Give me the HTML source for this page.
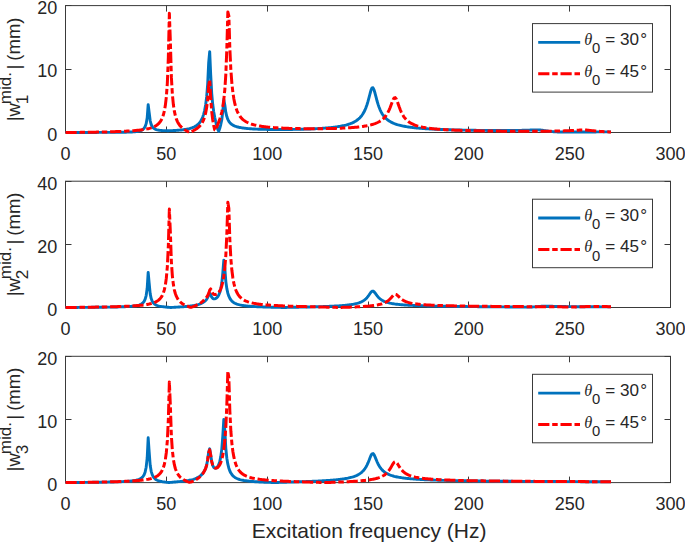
<!DOCTYPE html>
<html><head><meta charset="utf-8"><title>Frequency response</title>
<style>html,body{margin:0;padding:0;background:#fff}svg text{font-family:"Liberation Sans",sans-serif;fill:#262626}</style>
</head><body>
<svg width="685" height="543" viewBox="0 0 685 543" style="display:block">
<rect width="685" height="543" fill="#fff"/>
<g><rect x="65.5" y="5.6" width="605.0" height="126.9" fill="none" stroke="#3a3a3a" stroke-width="1"/>
<text x="65.50" y="159.5" text-anchor="middle" font-size="18">0</text>
<text x="166.33" y="159.5" text-anchor="middle" font-size="18">50</text>
<text x="267.17" y="159.5" text-anchor="middle" font-size="18">100</text>
<text x="368.00" y="159.5" text-anchor="middle" font-size="18">150</text>
<text x="468.83" y="159.5" text-anchor="middle" font-size="18">200</text>
<text x="569.67" y="159.5" text-anchor="middle" font-size="18">250</text>
<text x="670.50" y="159.5" text-anchor="middle" font-size="18">300</text>
<text x="57.3" y="140.80" text-anchor="end" font-size="18">0</text>
<text x="57.3" y="77.35" text-anchor="end" font-size="18">10</text>
<text x="57.3" y="13.90" text-anchor="end" font-size="18">20</text>
<path d="M65.50,132.5 v-6 M65.50,5.6 v6 M166.50,132.5 v-6 M166.50,5.6 v6 M267.50,132.5 v-6 M267.50,5.6 v6 M368.50,132.5 v-6 M368.50,5.6 v6 M468.50,132.5 v-6 M468.50,5.6 v6 M569.50,132.5 v-6 M569.50,5.6 v6 M670.50,132.5 v-6 M670.50,5.6 v6 M65.5,132.50 h6 M670.5,132.50 h-6 M65.5,69.50 h6 M670.5,69.50 h-6 M65.5,5.50 h6 M670.5,5.50 h-6" stroke="#3a3a3a" stroke-width="1" fill="none"/>
<path d="M65.50,132.50 L66.51,132.50 L67.52,132.50 L68.53,132.50 L69.53,132.49 L70.54,132.49 L71.55,132.49 L72.56,132.48 L73.57,132.48 L74.58,132.48 L75.58,132.48 L76.59,132.48 L77.60,132.47 L78.61,132.47 L79.62,132.47 L80.62,132.47 L81.63,132.46 L82.64,132.46 L83.65,132.46 L84.66,132.46 L85.67,132.45 L86.67,132.45 L87.68,132.45 L88.69,132.45 L89.70,132.45 L90.71,132.44 L91.72,132.44 L92.72,132.44 L93.73,132.44 L94.74,132.43 L95.75,132.43 L96.76,132.43 L97.77,132.42 L98.78,132.42 L99.78,132.42 L100.79,132.42 L101.80,132.41 L102.81,132.41 L103.82,132.41 L104.82,132.40 L105.83,132.40 L106.84,132.39 L107.85,132.39 L108.86,132.38 L109.87,132.38 L110.88,132.37 L111.88,132.37 L112.89,132.36 L113.90,132.35 L114.91,132.34 L115.92,132.34 L116.92,132.33 L117.93,132.32 L118.94,132.30 L119.95,132.29 L120.96,132.28 L121.97,132.26 L122.97,132.25 L123.98,132.23 L124.99,132.20 L126.00,132.18 L127.01,132.15 L128.02,132.12 L129.03,132.09 L130.03,132.05 L131.04,132.00 L132.05,131.95 L133.06,131.88 L134.07,131.81 L135.07,131.72 L136.08,131.61 L137.09,131.48 L138.10,131.31 L139.11,131.10 L140.12,130.84 L141.12,130.48 L142.13,130.00 L143.14,129.30 L144.15,128.26 L145.16,126.58 L146.17,123.63 L147.18,117.77 L148.18,104.58 L149.19,112.76 L150.20,120.80 L151.21,124.51 L152.22,126.56 L153.22,127.80 L154.23,128.60 L155.24,129.15 L156.25,129.55 L157.26,129.84 L158.27,130.05 L159.27,130.22 L160.28,130.35 L161.29,130.45 L162.30,130.53 L163.31,130.58 L164.32,130.62 L165.32,130.65 L166.33,130.67 L167.34,130.68 L168.35,130.68 L169.36,130.67 L170.37,130.65 L171.38,130.63 L172.38,130.59 L173.39,130.55 L174.40,130.51 L175.41,130.45 L176.42,130.39 L177.43,130.32 L178.43,130.24 L179.44,130.16 L180.45,130.06 L181.46,129.95 L182.47,129.84 L183.47,129.70 L184.48,129.56 L185.49,129.40 L186.50,129.22 L187.51,129.02 L188.52,128.79 L189.52,128.54 L190.53,128.26 L191.54,127.94 L192.55,127.58 L193.56,127.16 L194.57,126.69 L195.57,126.13 L196.58,125.48 L197.59,124.71 L198.60,123.79 L199.61,122.67 L200.62,121.29 L201.62,119.54 L202.63,117.30 L203.64,114.35 L204.65,110.34 L205.66,104.74 L206.67,96.65 L207.67,84.01 L208.68,62.51 L209.69,51.60 L210.70,74.53 L211.71,93.31 L212.72,104.31 L213.72,111.77 L214.73,117.33 L215.74,121.80 L216.75,125.68 L217.76,129.24 L218.77,131.30 L219.78,128.26 L220.78,124.54 L221.79,119.76 L222.80,111.21 L223.81,99.51 L224.82,104.95 L225.82,112.37 L226.83,116.62 L227.84,119.40 L228.85,121.31 L229.86,122.68 L230.87,123.71 L231.88,124.50 L232.88,125.13 L233.89,125.65 L234.90,126.08 L235.91,126.45 L236.92,126.76 L237.92,127.03 L238.93,127.27 L239.94,127.48 L240.95,127.67 L241.96,127.84 L242.97,127.99 L243.97,128.13 L244.98,128.26 L245.99,128.37 L247.00,128.47 L248.01,128.57 L249.02,128.66 L250.03,128.74 L251.03,128.81 L252.04,128.88 L253.05,128.94 L254.06,129.00 L255.07,129.05 L256.07,129.10 L257.08,129.15 L258.09,129.19 L259.10,129.23 L260.11,129.26 L261.12,129.30 L262.12,129.33 L263.13,129.35 L264.14,129.38 L265.15,129.40 L266.16,129.42 L267.17,129.44 L268.17,129.46 L269.18,129.47 L270.19,129.49 L271.20,129.50 L272.21,129.51 L273.22,129.52 L274.23,129.53 L275.23,129.53 L276.24,129.54 L277.25,129.54 L278.26,129.54 L279.27,129.54 L280.27,129.54 L281.28,129.54 L282.29,129.53 L283.30,129.53 L284.31,129.52 L285.32,129.52 L286.32,129.51 L287.33,129.50 L288.34,129.49 L289.35,129.48 L290.36,129.46 L291.37,129.45 L292.38,129.43 L293.38,129.42 L294.39,129.40 L295.40,129.38 L296.41,129.36 L297.42,129.34 L298.42,129.32 L299.43,129.29 L300.44,129.27 L301.45,129.24 L302.46,129.21 L303.47,129.18 L304.48,129.15 L305.48,129.12 L306.49,129.09 L307.50,129.05 L308.51,129.01 L309.52,128.97 L310.52,128.93 L311.53,128.89 L312.54,128.84 L313.55,128.80 L314.56,128.75 L315.57,128.70 L316.57,128.64 L317.58,128.59 L318.59,128.53 L319.60,128.47 L320.61,128.40 L321.62,128.34 L322.62,128.27 L323.63,128.19 L324.64,128.12 L325.65,128.04 L326.66,127.95 L327.67,127.86 L328.68,127.77 L329.68,127.67 L330.69,127.57 L331.70,127.46 L332.71,127.35 L333.72,127.23 L334.72,127.10 L335.73,126.97 L336.74,126.83 L337.75,126.68 L338.76,126.52 L339.77,126.35 L340.77,126.17 L341.78,125.98 L342.79,125.77 L343.80,125.55 L344.81,125.32 L345.82,125.07 L346.82,124.79 L347.83,124.50 L348.84,124.18 L349.85,123.84 L350.86,123.46 L351.87,123.05 L352.88,122.61 L353.88,122.11 L354.89,121.56 L355.90,120.96 L356.91,120.28 L357.92,119.52 L358.93,118.66 L359.93,117.68 L360.94,116.57 L361.95,115.28 L362.96,113.79 L363.97,112.05 L364.97,110.01 L365.98,107.59 L366.99,104.74 L368.00,101.43 L369.01,97.68 L370.02,93.74 L371.02,90.18 L372.03,87.92 L373.04,87.77 L374.05,89.81 L375.06,93.27 L376.07,97.21 L377.07,101.01 L378.08,104.40 L379.09,107.32 L380.10,109.79 L381.11,111.89 L382.12,113.67 L383.12,115.20 L384.13,116.51 L385.14,117.65 L386.15,118.64 L387.16,119.52 L388.17,120.29 L389.18,120.98 L390.18,121.60 L391.19,122.16 L392.20,122.66 L393.21,123.12 L394.22,123.53 L395.22,123.91 L396.23,124.26 L397.24,124.59 L398.25,124.89 L399.26,125.16 L400.27,125.42 L401.27,125.66 L402.28,125.88 L403.29,126.09 L404.30,126.29 L405.31,126.47 L406.32,126.64 L407.32,126.81 L408.33,126.96 L409.34,127.11 L410.35,127.25 L411.36,127.38 L412.37,127.50 L413.38,127.62 L414.38,127.73 L415.39,127.84 L416.40,127.94 L417.41,128.04 L418.42,128.13 L419.43,128.22 L420.43,128.30 L421.44,128.38 L422.45,128.46 L423.46,128.54 L424.47,128.61 L425.47,128.68 L426.48,128.74 L427.49,128.81 L428.50,128.87 L429.51,128.93 L430.52,128.99 L431.52,129.04 L432.53,129.09 L433.54,129.15 L434.55,129.19 L435.56,129.24 L436.57,129.29 L437.57,129.33 L438.58,129.38 L439.59,129.42 L440.60,129.46 L441.61,129.50 L442.62,129.54 L443.62,129.57 L444.63,129.61 L445.64,129.64 L446.65,129.68 L447.66,129.71 L448.67,129.74 L449.68,129.77 L450.68,129.80 L451.69,129.83 L452.70,129.86 L453.71,129.88 L454.72,129.91 L455.72,129.94 L456.73,129.96 L457.74,129.98 L458.75,130.01 L459.76,130.03 L460.77,130.05 L461.77,130.07 L462.78,130.09 L463.79,130.11 L464.80,130.13 L465.81,130.15 L466.82,130.17 L467.82,130.19 L468.83,130.21 L469.84,130.22 L470.85,130.24 L471.86,130.25 L472.87,130.27 L473.88,130.28 L474.88,130.30 L475.89,130.31 L476.90,130.33 L477.91,130.34 L478.92,130.35 L479.93,130.36 L480.93,130.37 L481.94,130.39 L482.95,130.40 L483.96,130.41 L484.97,130.41 L485.97,130.42 L486.98,130.43 L487.99,130.44 L489.00,130.45 L490.01,130.46 L491.02,130.46 L492.02,130.47 L493.03,130.47 L494.04,130.48 L495.05,130.48 L496.06,130.49 L497.07,130.49 L498.07,130.49 L499.08,130.50 L500.09,130.50 L501.10,130.50 L502.11,130.50 L503.12,130.50 L504.12,130.50 L505.13,130.50 L506.14,130.49 L507.15,130.49 L508.16,130.49 L509.17,130.48 L510.18,130.48 L511.18,130.47 L512.19,130.46 L513.20,130.45 L514.21,130.44 L515.22,130.43 L516.22,130.42 L517.23,130.40 L518.24,130.39 L519.25,130.37 L520.26,130.35 L521.27,130.33 L522.27,130.31 L523.28,130.28 L524.29,130.26 L525.30,130.23 L526.31,130.20 L527.32,130.16 L528.33,130.13 L529.33,130.09 L530.34,130.05 L531.35,130.01 L532.36,129.98 L533.37,129.94 L534.38,129.91 L535.38,129.89 L536.39,129.88 L537.40,129.89 L538.41,129.91 L539.42,129.96 L540.42,130.04 L541.43,130.14 L542.44,130.27 L543.45,130.41 L544.46,130.57 L545.47,130.73 L546.47,130.89 L547.48,131.04 L548.49,131.19 L549.50,131.32 L550.51,131.44 L551.52,131.55 L552.52,131.64 L553.53,131.73 L554.54,131.80 L555.55,131.86 L556.56,131.91 L557.57,131.95 L558.58,131.99 L559.58,132.01 L560.59,132.03 L561.60,132.05 L562.61,132.06 L563.62,132.06 L564.62,132.06 L565.63,132.06 L566.64,132.06 L567.65,132.06 L568.66,132.05 L569.67,132.05 L570.67,132.04 L571.68,132.04 L572.69,132.03 L573.70,132.02 L574.71,132.02 L575.72,132.01 L576.72,132.00 L577.73,132.00 L578.74,131.99 L579.75,131.99 L580.76,131.98 L581.77,131.97 L582.77,131.97 L583.78,131.97 L584.79,131.96 L585.80,131.96 L586.81,131.95 L587.82,131.95 L588.82,131.95 L589.83,131.94 L590.84,131.94 L591.85,131.94 L592.86,131.93 L593.87,131.93 L594.88,131.93 L595.88,131.93 L596.89,131.92 L597.90,131.92 L598.91,131.92 L599.92,131.92 L600.92,131.92 L601.93,131.92 L602.94,131.91 L603.95,131.91 L604.96,131.91 L605.97,131.91 L606.98,131.91 L607.98,131.91 L608.99,131.91 L610.00,131.91 L611.01,131.91" fill="none" stroke="#0072BD" stroke-width="2.9" stroke-linejoin="round"/>
<path d="M65.50,132.50 L66.51,132.49 L67.52,132.49 L68.53,132.48 L69.53,132.48 L70.54,132.47 L71.55,132.46 L72.56,132.45 L73.57,132.45 L74.58,132.44 L75.58,132.43 L76.59,132.42 L77.60,132.41 L78.61,132.39 L79.62,132.38 L80.62,132.37 L81.63,132.36 L82.64,132.35 L83.65,132.33 L84.66,132.32 L85.67,132.30 L86.67,132.29 L87.68,132.27 L88.69,132.26 L89.70,132.24 L90.71,132.23 L91.72,132.21 L92.72,132.19 L93.73,132.18 L94.74,132.16 L95.75,132.14 L96.76,132.12 L97.77,132.10 L98.78,132.08 L99.78,132.06 L100.79,132.04 L101.80,132.02 L102.81,131.99 L103.82,131.97 L104.82,131.94 L105.83,131.92 L106.84,131.89 L107.85,131.87 L108.86,131.84 L109.87,131.81 L110.88,131.78 L111.88,131.75 L112.89,131.72 L113.90,131.69 L114.91,131.65 L115.92,131.62 L116.92,131.58 L117.93,131.54 L118.94,131.50 L119.95,131.46 L120.96,131.42 L121.97,131.37 L122.97,131.33 L123.98,131.28 L124.99,131.23 L126.00,131.17 L127.01,131.12 L128.02,131.06 L129.03,131.00 L130.03,130.93 L131.04,130.86 L132.05,130.79 L133.06,130.72 L134.07,130.64 L135.07,130.55 L136.08,130.46 L137.09,130.36 L138.10,130.26 L139.11,130.15 L140.12,130.03 L141.12,129.91 L142.13,129.77 L143.14,129.63 L144.15,129.47 L145.16,129.29 L146.17,129.11 L147.18,128.90 L148.18,128.67 L149.19,128.42 L150.20,128.14 L151.21,127.83 L152.22,127.48 L153.22,127.09 L154.23,126.63 L155.24,126.11 L156.25,125.50 L157.26,124.79 L158.27,123.93 L159.27,122.89 L160.28,121.61 L161.29,119.99 L162.30,117.90 L163.31,115.10 L164.32,111.22 L165.32,105.59 L166.33,96.98 L167.34,83.00 L168.35,57.42 L169.36,13.21 L170.37,41.70 L171.38,77.13 L172.38,94.52 L173.39,104.83 L174.40,111.45 L175.41,115.95 L176.42,119.18 L177.43,121.59 L178.43,123.45 L179.44,124.95 L180.45,126.17 L181.46,127.20 L182.47,128.09 L183.47,128.86 L184.48,129.56 L185.49,130.19 L186.50,130.77 L187.51,131.33 L188.52,131.85 L189.52,132.36 L190.53,132.12 L191.54,131.61 L192.55,131.09 L193.56,130.55 L194.57,129.97 L195.57,129.36 L196.58,128.69 L197.59,127.95 L198.60,127.11 L199.61,126.14 L200.62,125.00 L201.62,123.63 L202.63,121.92 L203.64,119.75 L204.65,116.89 L205.66,112.98 L206.67,107.47 L207.67,99.20 L208.68,85.70 L209.69,79.84 L210.70,97.62 L211.71,111.66 L212.72,119.93 L213.72,125.66 L214.73,129.91 L215.74,130.37 L216.75,127.39 L217.76,124.51 L218.77,121.82 L219.78,119.08 L220.78,115.95 L221.79,112.02 L222.80,106.81 L223.81,99.67 L224.82,89.53 L225.82,74.34 L226.83,48.60 L227.84,11.94 L228.85,15.88 L229.86,48.90 L230.87,70.06 L231.88,83.31 L232.88,92.47 L233.89,99.05 L234.90,103.93 L235.91,107.64 L236.92,110.53 L237.92,112.83 L238.93,114.69 L239.94,116.23 L240.95,117.52 L241.96,118.61 L242.97,119.55 L243.97,120.36 L244.98,121.07 L245.99,121.69 L247.00,122.25 L248.01,122.74 L249.02,123.18 L250.03,123.58 L251.03,123.94 L252.04,124.27 L253.05,124.57 L254.06,124.84 L255.07,125.10 L256.07,125.33 L257.08,125.54 L258.09,125.74 L259.10,125.93 L260.11,126.10 L261.12,126.26 L262.12,126.41 L263.13,126.55 L264.14,126.68 L265.15,126.81 L266.16,126.92 L267.17,127.03 L268.17,127.13 L269.18,127.23 L270.19,127.32 L271.20,127.41 L272.21,127.49 L273.22,127.57 L274.23,127.64 L275.23,127.71 L276.24,127.78 L277.25,127.84 L278.26,127.90 L279.27,127.96 L280.27,128.01 L281.28,128.06 L282.29,128.11 L283.30,128.15 L284.31,128.20 L285.32,128.24 L286.32,128.28 L287.33,128.31 L288.34,128.35 L289.35,128.38 L290.36,128.41 L291.37,128.44 L292.38,128.47 L293.38,128.49 L294.39,128.52 L295.40,128.54 L296.41,128.56 L297.42,128.58 L298.42,128.60 L299.43,128.62 L300.44,128.63 L301.45,128.65 L302.46,128.66 L303.47,128.67 L304.48,128.68 L305.48,128.69 L306.49,128.70 L307.50,128.70 L308.51,128.71 L309.52,128.71 L310.52,128.72 L311.53,128.72 L312.54,128.72 L313.55,128.72 L314.56,128.72 L315.57,128.72 L316.57,128.71 L317.58,128.71 L318.59,128.70 L319.60,128.69 L320.61,128.69 L321.62,128.68 L322.62,128.66 L323.63,128.65 L324.64,128.64 L325.65,128.62 L326.66,128.61 L327.67,128.59 L328.68,128.57 L329.68,128.55 L330.69,128.53 L331.70,128.50 L332.71,128.48 L333.72,128.45 L334.72,128.42 L335.73,128.39 L336.74,128.36 L337.75,128.32 L338.76,128.29 L339.77,128.25 L340.77,128.21 L341.78,128.17 L342.79,128.12 L343.80,128.07 L344.81,128.02 L345.82,127.97 L346.82,127.91 L347.83,127.85 L348.84,127.79 L349.85,127.73 L350.86,127.66 L351.87,127.58 L352.88,127.50 L353.88,127.42 L354.89,127.33 L355.90,127.24 L356.91,127.14 L357.92,127.04 L358.93,126.93 L359.93,126.81 L360.94,126.69 L361.95,126.56 L362.96,126.41 L363.97,126.26 L364.97,126.10 L365.98,125.93 L366.99,125.74 L368.00,125.54 L369.01,125.32 L370.02,125.09 L371.02,124.84 L372.03,124.56 L373.04,124.27 L374.05,123.94 L375.06,123.58 L376.07,123.19 L377.07,122.75 L378.08,122.27 L379.09,121.73 L380.10,121.13 L381.11,120.46 L382.12,119.69 L383.12,118.82 L384.13,117.82 L385.14,116.67 L386.15,115.33 L387.16,113.78 L388.17,111.97 L389.18,109.87 L390.18,107.46 L391.19,104.78 L392.20,102.01 L393.21,99.51 L394.22,97.86 L395.22,97.60 L396.23,98.87 L397.24,101.26 L398.25,104.15 L399.26,107.06 L400.27,109.73 L401.27,112.08 L402.28,114.10 L403.29,115.83 L404.30,117.31 L405.31,118.59 L406.32,119.68 L407.32,120.64 L408.33,121.47 L409.34,122.21 L410.35,122.86 L411.36,123.44 L412.37,123.96 L413.38,124.42 L414.38,124.85 L415.39,125.23 L416.40,125.58 L417.41,125.90 L418.42,126.19 L419.43,126.46 L420.43,126.71 L421.44,126.94 L422.45,127.15 L423.46,127.35 L424.47,127.54 L425.47,127.71 L426.48,127.87 L427.49,128.03 L428.50,128.17 L429.51,128.30 L430.52,128.43 L431.52,128.55 L432.53,128.66 L433.54,128.77 L434.55,128.87 L435.56,128.97 L436.57,129.06 L437.57,129.15 L438.58,129.23 L439.59,129.31 L440.60,129.39 L441.61,129.46 L442.62,129.53 L443.62,129.59 L444.63,129.66 L445.64,129.72 L446.65,129.77 L447.66,129.83 L448.67,129.88 L449.68,129.93 L450.68,129.98 L451.69,130.03 L452.70,130.08 L453.71,130.12 L454.72,130.16 L455.72,130.20 L456.73,130.24 L457.74,130.28 L458.75,130.32 L459.76,130.35 L460.77,130.39 L461.77,130.42 L462.78,130.45 L463.79,130.48 L464.80,130.51 L465.81,130.54 L466.82,130.57 L467.82,130.59 L468.83,130.62 L469.84,130.65 L470.85,130.67 L471.86,130.69 L472.87,130.72 L473.88,130.74 L474.88,130.76 L475.89,130.78 L476.90,130.80 L477.91,130.82 L478.92,130.84 L479.93,130.86 L480.93,130.88 L481.94,130.89 L482.95,130.91 L483.96,130.93 L484.97,130.94 L485.97,130.96 L486.98,130.97 L487.99,130.99 L489.00,131.00 L490.01,131.01 L491.02,131.03 L492.02,131.04 L493.03,131.05 L494.04,131.06 L495.05,131.07 L496.06,131.08 L497.07,131.10 L498.07,131.11 L499.08,131.12 L500.09,131.12 L501.10,131.13 L502.11,131.14 L503.12,131.15 L504.12,131.16 L505.13,131.17 L506.14,131.17 L507.15,131.18 L508.16,131.19 L509.17,131.20 L510.18,131.20 L511.18,131.21 L512.19,131.21 L513.20,131.22 L514.21,131.22 L515.22,131.23 L516.22,131.23 L517.23,131.24 L518.24,131.24 L519.25,131.24 L520.26,131.25 L521.27,131.25 L522.27,131.25 L523.28,131.26 L524.29,131.26 L525.30,131.26 L526.31,131.26 L527.32,131.26 L528.33,131.26 L529.33,131.26 L530.34,131.26 L531.35,131.26 L532.36,131.26 L533.37,131.26 L534.38,131.26 L535.38,131.25 L536.39,131.25 L537.40,131.25 L538.41,131.24 L539.42,131.24 L540.42,131.23 L541.43,131.23 L542.44,131.22 L543.45,131.22 L544.46,131.21 L545.47,131.20 L546.47,131.19 L547.48,131.19 L548.49,131.18 L549.50,131.16 L550.51,131.15 L551.52,131.14 L552.52,131.13 L553.53,131.11 L554.54,131.10 L555.55,131.08 L556.56,131.06 L557.57,131.04 L558.58,131.02 L559.58,131.00 L560.59,130.98 L561.60,130.95 L562.61,130.92 L563.62,130.89 L564.62,130.86 L565.63,130.83 L566.64,130.79 L567.65,130.75 L568.66,130.71 L569.67,130.66 L570.67,130.61 L571.68,130.56 L572.69,130.50 L573.70,130.45 L574.71,130.38 L575.72,130.32 L576.72,130.26 L577.73,130.19 L578.74,130.13 L579.75,130.07 L580.76,130.03 L581.77,129.99 L582.77,129.97 L583.78,129.96 L584.79,129.98 L585.80,130.02 L586.81,130.09 L587.82,130.17 L588.82,130.27 L589.83,130.38 L590.84,130.50 L591.85,130.62 L592.86,130.74 L593.87,130.85 L594.88,130.96 L595.88,131.07 L596.89,131.17 L597.90,131.26 L598.91,131.34 L599.92,131.42 L600.92,131.49 L601.93,131.56 L602.94,131.62 L603.95,131.68 L604.96,131.73 L605.97,131.78 L606.98,131.82 L607.98,131.86 L608.99,131.90 L610.00,131.94 L611.01,131.97" fill="none" stroke="#FF0000" stroke-width="3" stroke-linejoin="round" stroke-dasharray="11.2,2.8,5.5,2.8"/>
<rect x="532.5" y="23.6" width="120" height="68.5" fill="#fff" stroke="#3a3a3a" stroke-width="1"/>
<path d="M538.2,42.4 H580.2" stroke="#0072BD" stroke-width="2.9"/>
<path d="M538.2,73.8 H580.2" stroke="#FF0000" stroke-width="3" stroke-dasharray="11.2,2.8,5.5,2.8"/>
<text x="584.3" y="44.9" font-size="17.1"><tspan font-style="italic" font-family="'Liberation Serif',serif" font-size="16.3">θ</tspan><tspan font-size="14.8" dy="8.3" dx="-0.3">0</tspan><tspan dy="-8.3" dx="0.3"> = 30</tspan><tspan dx="1.1">°</tspan></text>
<text x="584.3" y="76.8" font-size="17.1"><tspan font-style="italic" font-family="'Liberation Serif',serif" font-size="16.3">θ</tspan><tspan font-size="14.8" dy="8.3" dx="-0.3">0</tspan><tspan dy="-8.3" dx="0.3"> = 45</tspan><tspan dx="1.1">°</tspan></text>
<text transform="translate(19.8,121.3) rotate(-90)" font-size="18.5">|w<tspan font-size="17.1" dy="-8.7" dx="-1.1">mid.</tspan><tspan dy="8.7" dx="2.4">|<tspan dx="-1.1"> (mm)</tspan></tspan></text>
<text transform="translate(28,104.2) rotate(-90)" font-size="17.1">1</text></g>
<g><rect x="65.5" y="181.2" width="605.0" height="126.3" fill="none" stroke="#3a3a3a" stroke-width="1"/>
<text x="65.50" y="334.5" text-anchor="middle" font-size="18">0</text>
<text x="166.33" y="334.5" text-anchor="middle" font-size="18">50</text>
<text x="267.17" y="334.5" text-anchor="middle" font-size="18">100</text>
<text x="368.00" y="334.5" text-anchor="middle" font-size="18">150</text>
<text x="468.83" y="334.5" text-anchor="middle" font-size="18">200</text>
<text x="569.67" y="334.5" text-anchor="middle" font-size="18">250</text>
<text x="670.50" y="334.5" text-anchor="middle" font-size="18">300</text>
<text x="57.3" y="315.80" text-anchor="end" font-size="18">0</text>
<text x="57.3" y="252.65" text-anchor="end" font-size="18">20</text>
<text x="57.3" y="189.50" text-anchor="end" font-size="18">40</text>
<path d="M65.50,307.5 v-6 M65.50,181.2 v6 M166.50,307.5 v-6 M166.50,181.2 v6 M267.50,307.5 v-6 M267.50,181.2 v6 M368.50,307.5 v-6 M368.50,181.2 v6 M468.50,307.5 v-6 M468.50,181.2 v6 M569.50,307.5 v-6 M569.50,181.2 v6 M670.50,307.5 v-6 M670.50,181.2 v6 M65.5,307.50 h6 M670.5,307.50 h-6 M65.5,244.50 h6 M670.5,244.50 h-6 M65.5,181.50 h6 M670.5,181.50 h-6" stroke="#3a3a3a" stroke-width="1" fill="none"/>
<path d="M65.50,307.49 L66.51,307.48 L67.52,307.48 L68.53,307.48 L69.53,307.47 L70.54,307.47 L71.55,307.46 L72.56,307.46 L73.57,307.45 L74.58,307.44 L75.58,307.44 L76.59,307.43 L77.60,307.43 L78.61,307.42 L79.62,307.41 L80.62,307.41 L81.63,307.40 L82.64,307.39 L83.65,307.38 L84.66,307.38 L85.67,307.37 L86.67,307.36 L87.68,307.35 L88.69,307.34 L89.70,307.34 L90.71,307.33 L91.72,307.32 L92.72,307.31 L93.73,307.30 L94.74,307.29 L95.75,307.28 L96.76,307.27 L97.77,307.26 L98.78,307.25 L99.78,307.24 L100.79,307.23 L101.80,307.21 L102.81,307.20 L103.82,307.19 L104.82,307.17 L105.83,307.16 L106.84,307.15 L107.85,307.13 L108.86,307.12 L109.87,307.10 L110.88,307.08 L111.88,307.06 L112.89,307.04 L113.90,307.02 L114.91,307.00 L115.92,306.98 L116.92,306.96 L117.93,306.93 L118.94,306.90 L119.95,306.88 L120.96,306.85 L121.97,306.81 L122.97,306.78 L123.98,306.74 L124.99,306.70 L126.00,306.65 L127.01,306.60 L128.02,306.55 L129.03,306.48 L130.03,306.42 L131.04,306.34 L132.05,306.25 L133.06,306.15 L134.07,306.04 L135.07,305.91 L136.08,305.75 L137.09,305.56 L138.10,305.33 L139.11,305.05 L140.12,304.69 L141.12,304.22 L142.13,303.59 L143.14,302.70 L144.15,301.37 L145.16,299.24 L146.17,295.54 L147.18,288.31 L148.18,272.45 L149.19,283.50 L150.20,293.87 L151.21,298.58 L152.22,301.19 L153.22,302.78 L154.23,303.83 L155.24,304.56 L156.25,305.10 L157.26,305.51 L158.27,305.83 L159.27,306.10 L160.28,306.31 L161.29,306.50 L162.30,306.65 L163.31,306.79 L164.32,306.91 L165.32,307.02 L166.33,307.12 L167.34,307.21 L168.35,307.29 L169.36,307.36 L170.37,307.43 L171.38,307.47 L172.38,307.41 L173.39,307.35 L174.40,307.29 L175.41,307.23 L176.42,307.17 L177.43,307.11 L178.43,307.04 L179.44,306.98 L180.45,306.92 L181.46,306.85 L182.47,306.78 L183.47,306.71 L184.48,306.63 L185.49,306.55 L186.50,306.47 L187.51,306.38 L188.52,306.28 L189.52,306.17 L190.53,306.06 L191.54,305.93 L192.55,305.79 L193.56,305.64 L194.57,305.46 L195.57,305.26 L196.58,305.04 L197.59,304.78 L198.60,304.48 L199.61,304.14 L200.62,303.73 L201.62,303.27 L202.63,302.72 L203.64,302.10 L204.65,301.37 L205.66,300.49 L206.67,299.35 L207.67,297.60 L208.68,294.99 L209.69,293.29 L210.70,294.82 L211.71,297.11 L212.72,298.37 L213.72,298.84 L214.73,298.84 L215.74,298.50 L216.75,297.81 L217.76,296.70 L218.77,295.03 L219.78,292.55 L220.78,288.84 L221.79,283.07 L222.80,272.99 L223.81,260.14 L224.82,268.06 L225.82,281.33 L226.83,288.66 L227.84,293.18 L228.85,296.21 L229.86,298.35 L230.87,299.90 L231.88,301.06 L232.88,301.96 L233.89,302.67 L234.90,303.24 L235.91,303.71 L236.92,304.10 L237.92,304.42 L238.93,304.70 L239.94,304.94 L240.95,305.15 L241.96,305.34 L242.97,305.50 L243.97,305.65 L244.98,305.78 L245.99,305.89 L247.00,306.00 L248.01,306.10 L249.02,306.19 L250.03,306.27 L251.03,306.34 L252.04,306.41 L253.05,306.48 L254.06,306.54 L255.07,306.60 L256.07,306.65 L257.08,306.70 L258.09,306.75 L259.10,306.79 L260.11,306.83 L261.12,306.87 L262.12,306.91 L263.13,306.95 L264.14,306.99 L265.15,307.02 L266.16,307.05 L267.17,307.08 L268.17,307.11 L269.18,307.14 L270.19,307.17 L271.20,307.20 L272.21,307.22 L273.22,307.25 L274.23,307.28 L275.23,307.30 L276.24,307.32 L277.25,307.35 L278.26,307.37 L279.27,307.39 L280.27,307.41 L281.28,307.43 L282.29,307.44 L283.30,307.45 L284.31,307.45 L285.32,307.45 L286.32,307.43 L287.33,307.41 L288.34,307.40 L289.35,307.38 L290.36,307.36 L291.37,307.34 L292.38,307.32 L293.38,307.30 L294.39,307.28 L295.40,307.26 L296.41,307.24 L297.42,307.21 L298.42,307.19 L299.43,307.17 L300.44,307.15 L301.45,307.13 L302.46,307.11 L303.47,307.09 L304.48,307.06 L305.48,307.04 L306.49,307.02 L307.50,307.00 L308.51,306.97 L309.52,306.95 L310.52,306.92 L311.53,306.90 L312.54,306.87 L313.55,306.85 L314.56,306.82 L315.57,306.79 L316.57,306.76 L317.58,306.74 L318.59,306.71 L319.60,306.68 L320.61,306.65 L321.62,306.61 L322.62,306.58 L323.63,306.55 L324.64,306.51 L325.65,306.47 L326.66,306.44 L327.67,306.40 L328.68,306.36 L329.68,306.31 L330.69,306.27 L331.70,306.22 L332.71,306.18 L333.72,306.13 L334.72,306.07 L335.73,306.02 L336.74,305.96 L337.75,305.90 L338.76,305.84 L339.77,305.77 L340.77,305.70 L341.78,305.62 L342.79,305.54 L343.80,305.45 L344.81,305.36 L345.82,305.26 L346.82,305.16 L347.83,305.05 L348.84,304.93 L349.85,304.79 L350.86,304.65 L351.87,304.50 L352.88,304.33 L353.88,304.14 L354.89,303.93 L355.90,303.70 L356.91,303.45 L357.92,303.17 L358.93,302.84 L359.93,302.48 L360.94,302.06 L361.95,301.58 L362.96,301.03 L363.97,300.38 L364.97,299.62 L365.98,298.72 L366.99,297.65 L368.00,296.41 L369.01,295.00 L370.02,293.50 L371.02,292.13 L372.03,291.22 L373.04,291.08 L374.05,291.75 L375.06,292.95 L376.07,294.35 L377.07,295.71 L378.08,296.93 L379.09,297.98 L380.10,298.88 L381.11,299.64 L382.12,300.29 L383.12,300.85 L384.13,301.33 L385.14,301.74 L386.15,302.11 L387.16,302.43 L388.17,302.71 L389.18,302.97 L390.18,303.20 L391.19,303.40 L392.20,303.59 L393.21,303.76 L394.22,303.91 L395.22,304.06 L396.23,304.19 L397.24,304.31 L398.25,304.42 L399.26,304.52 L400.27,304.62 L401.27,304.71 L402.28,304.80 L403.29,304.88 L404.30,304.95 L405.31,305.02 L406.32,305.09 L407.32,305.15 L408.33,305.21 L409.34,305.27 L410.35,305.32 L411.36,305.37 L412.37,305.42 L413.38,305.46 L414.38,305.51 L415.39,305.55 L416.40,305.59 L417.41,305.63 L418.42,305.66 L419.43,305.70 L420.43,305.73 L421.44,305.77 L422.45,305.80 L423.46,305.83 L424.47,305.86 L425.47,305.89 L426.48,305.91 L427.49,305.94 L428.50,305.96 L429.51,305.99 L430.52,306.01 L431.52,306.04 L432.53,306.06 L433.54,306.08 L434.55,306.10 L435.56,306.12 L436.57,306.14 L437.57,306.16 L438.58,306.18 L439.59,306.20 L440.60,306.22 L441.61,306.23 L442.62,306.25 L443.62,306.27 L444.63,306.28 L445.64,306.30 L446.65,306.31 L447.66,306.33 L448.67,306.34 L449.68,306.36 L450.68,306.37 L451.69,306.39 L452.70,306.40 L453.71,306.41 L454.72,306.43 L455.72,306.44 L456.73,306.45 L457.74,306.46 L458.75,306.48 L459.76,306.49 L460.77,306.50 L461.77,306.51 L462.78,306.52 L463.79,306.53 L464.80,306.55 L465.81,306.56 L466.82,306.57 L467.82,306.58 L468.83,306.59 L469.84,306.60 L470.85,306.61 L471.86,306.62 L472.87,306.63 L473.88,306.64 L474.88,306.65 L475.89,306.66 L476.90,306.67 L477.91,306.68 L478.92,306.69 L479.93,306.70 L480.93,306.70 L481.94,306.71 L482.95,306.72 L483.96,306.73 L484.97,306.74 L485.97,306.75 L486.98,306.76 L487.99,306.77 L489.00,306.78 L490.01,306.79 L491.02,306.80 L492.02,306.81 L493.03,306.81 L494.04,306.82 L495.05,306.83 L496.06,306.84 L497.07,306.85 L498.07,306.86 L499.08,306.87 L500.09,306.88 L501.10,306.89 L502.11,306.90 L503.12,306.91 L504.12,306.92 L505.13,306.93 L506.14,306.94 L507.15,306.95 L508.16,306.96 L509.17,306.97 L510.18,306.98 L511.18,306.99 L512.19,307.00 L513.20,307.01 L514.21,307.03 L515.22,307.04 L516.22,307.05 L517.23,307.06 L518.24,307.07 L519.25,307.08 L520.26,307.09 L521.27,307.10 L522.27,307.10 L523.28,307.11 L524.29,307.11 L525.30,307.11 L526.31,307.10 L527.32,307.09 L528.33,307.08 L529.33,307.06 L530.34,307.03 L531.35,306.99 L532.36,306.94 L533.37,306.89 L534.38,306.83 L535.38,306.76 L536.39,306.68 L537.40,306.61 L538.41,306.53 L539.42,306.45 L540.42,306.38 L541.43,306.32 L542.44,306.27 L543.45,306.24 L544.46,306.22 L545.47,306.21 L546.47,306.21 L547.48,306.22 L548.49,306.23 L549.50,306.25 L550.51,306.27 L551.52,306.30 L552.52,306.32 L553.53,306.34 L554.54,306.37 L555.55,306.39 L556.56,306.41 L557.57,306.43 L558.58,306.45 L559.58,306.47 L560.59,306.49 L561.60,306.51 L562.61,306.52 L563.62,306.54 L564.62,306.55 L565.63,306.57 L566.64,306.58 L567.65,306.59 L568.66,306.60 L569.67,306.62 L570.67,306.63 L571.68,306.64 L572.69,306.65 L573.70,306.66 L574.71,306.67 L575.72,306.68 L576.72,306.68 L577.73,306.69 L578.74,306.70 L579.75,306.71 L580.76,306.72 L581.77,306.72 L582.77,306.73 L583.78,306.74 L584.79,306.74 L585.80,306.75 L586.81,306.76 L587.82,306.76 L588.82,306.77 L589.83,306.77 L590.84,306.78 L591.85,306.78 L592.86,306.79 L593.87,306.79 L594.88,306.80 L595.88,306.80 L596.89,306.81 L597.90,306.81 L598.91,306.82 L599.92,306.82 L600.92,306.83 L601.93,306.83 L602.94,306.83 L603.95,306.84 L604.96,306.84 L605.97,306.85 L606.98,306.85 L607.98,306.85 L608.99,306.86 L610.00,306.86 L611.01,306.86" fill="none" stroke="#0072BD" stroke-width="2.9" stroke-linejoin="round"/>
<path d="M65.50,307.48 L66.51,307.47 L67.52,307.46 L68.53,307.46 L69.53,307.45 L70.54,307.44 L71.55,307.43 L72.56,307.42 L73.57,307.41 L74.58,307.40 L75.58,307.39 L76.59,307.38 L77.60,307.37 L78.61,307.36 L79.62,307.35 L80.62,307.34 L81.63,307.32 L82.64,307.31 L83.65,307.30 L84.66,307.28 L85.67,307.27 L86.67,307.26 L87.68,307.24 L88.69,307.23 L89.70,307.21 L90.71,307.20 L91.72,307.18 L92.72,307.17 L93.73,307.15 L94.74,307.13 L95.75,307.12 L96.76,307.10 L97.77,307.08 L98.78,307.06 L99.78,307.05 L100.79,307.03 L101.80,307.01 L102.81,306.99 L103.82,306.97 L104.82,306.94 L105.83,306.92 L106.84,306.90 L107.85,306.88 L108.86,306.85 L109.87,306.83 L110.88,306.80 L111.88,306.78 L112.89,306.75 L113.90,306.72 L114.91,306.69 L115.92,306.66 L116.92,306.63 L117.93,306.60 L118.94,306.56 L119.95,306.53 L120.96,306.49 L121.97,306.46 L122.97,306.42 L123.98,306.38 L124.99,306.33 L126.00,306.29 L127.01,306.24 L128.02,306.20 L129.03,306.14 L130.03,306.09 L131.04,306.03 L132.05,305.98 L133.06,305.91 L134.07,305.85 L135.07,305.78 L136.08,305.70 L137.09,305.62 L138.10,305.54 L139.11,305.45 L140.12,305.35 L141.12,305.25 L142.13,305.14 L143.14,305.02 L144.15,304.89 L145.16,304.75 L146.17,304.60 L147.18,304.43 L148.18,304.24 L149.19,304.04 L150.20,303.81 L151.21,303.56 L152.22,303.27 L153.22,302.95 L154.23,302.58 L155.24,302.15 L156.25,301.65 L157.26,301.06 L158.27,300.36 L159.27,299.51 L160.28,298.46 L161.29,297.13 L162.30,295.40 L163.31,293.10 L164.32,289.90 L165.32,285.26 L166.33,278.15 L167.34,266.61 L168.35,245.49 L169.36,208.99 L170.37,232.49 L171.38,261.75 L172.38,276.10 L173.39,284.60 L174.40,290.06 L175.41,293.76 L176.42,296.41 L177.43,298.39 L178.43,299.91 L179.44,301.13 L180.45,302.12 L181.46,302.96 L182.47,303.67 L183.47,304.28 L184.48,304.83 L185.49,305.33 L186.50,305.78 L187.51,306.20 L188.52,306.60 L189.52,306.98 L190.53,307.29 L191.54,307.18 L192.55,306.83 L193.56,306.45 L194.57,306.04 L195.57,305.62 L196.58,305.17 L197.59,304.68 L198.60,304.15 L199.61,303.56 L200.62,302.91 L201.62,302.19 L202.63,301.39 L203.64,300.50 L204.65,299.53 L205.66,298.45 L206.67,297.22 L207.67,295.66 L208.68,293.37 L209.69,290.24 L210.70,288.87 L211.71,290.95 L212.72,293.16 L213.72,294.22 L214.73,294.57 L215.74,294.51 L216.75,294.13 L217.76,293.43 L218.77,292.38 L219.78,290.87 L220.78,288.78 L221.79,285.89 L222.80,281.87 L223.81,276.18 L224.82,267.93 L225.82,255.45 L226.83,234.30 L227.84,202.36 L228.85,208.34 L229.86,240.03 L230.87,258.86 L231.88,270.27 L232.88,277.95 L233.89,283.36 L234.90,287.30 L235.91,290.25 L236.92,292.52 L237.92,294.32 L238.93,295.76 L239.94,296.94 L240.95,297.92 L241.96,298.75 L242.97,299.45 L243.97,300.06 L244.98,300.58 L245.99,301.04 L247.00,301.45 L248.01,301.81 L249.02,302.14 L250.03,302.43 L251.03,302.69 L252.04,302.93 L253.05,303.15 L254.06,303.35 L255.07,303.53 L256.07,303.70 L257.08,303.86 L258.09,304.01 L259.10,304.14 L260.11,304.27 L261.12,304.39 L262.12,304.50 L263.13,304.60 L264.14,304.70 L265.15,304.80 L266.16,304.88 L267.17,304.97 L268.17,305.05 L269.18,305.12 L270.19,305.19 L271.20,305.26 L272.21,305.33 L273.22,305.39 L274.23,305.45 L275.23,305.51 L276.24,305.56 L277.25,305.62 L278.26,305.67 L279.27,305.72 L280.27,305.76 L281.28,305.81 L282.29,305.85 L283.30,305.90 L284.31,305.94 L285.32,305.98 L286.32,306.02 L287.33,306.06 L288.34,306.10 L289.35,306.13 L290.36,306.17 L291.37,306.20 L292.38,306.24 L293.38,306.27 L294.39,306.30 L295.40,306.33 L296.41,306.36 L297.42,306.39 L298.42,306.42 L299.43,306.45 L300.44,306.48 L301.45,306.51 L302.46,306.54 L303.47,306.57 L304.48,306.59 L305.48,306.62 L306.49,306.65 L307.50,306.67 L308.51,306.70 L309.52,306.72 L310.52,306.75 L311.53,306.77 L312.54,306.80 L313.55,306.82 L314.56,306.85 L315.57,306.87 L316.57,306.90 L317.58,306.92 L318.59,306.95 L319.60,306.97 L320.61,307.00 L321.62,307.02 L322.62,307.04 L323.63,307.07 L324.64,307.09 L325.65,307.12 L326.66,307.14 L327.67,307.17 L328.68,307.19 L329.68,307.22 L330.69,307.24 L331.70,307.27 L332.71,307.29 L333.72,307.31 L334.72,307.34 L335.73,307.36 L336.74,307.38 L337.75,307.40 L338.76,307.41 L339.77,307.41 L340.77,307.41 L341.78,307.39 L342.79,307.37 L343.80,307.34 L344.81,307.32 L345.82,307.29 L346.82,307.25 L347.83,307.22 L348.84,307.18 L349.85,307.15 L350.86,307.11 L351.87,307.07 L352.88,307.03 L353.88,306.99 L354.89,306.94 L355.90,306.90 L356.91,306.85 L357.92,306.80 L358.93,306.74 L359.93,306.69 L360.94,306.63 L361.95,306.57 L362.96,306.50 L363.97,306.44 L364.97,306.36 L365.98,306.29 L366.99,306.21 L368.00,306.12 L369.01,306.03 L370.02,305.93 L371.02,305.82 L372.03,305.71 L373.04,305.58 L374.05,305.45 L375.06,305.30 L376.07,305.14 L377.07,304.96 L378.08,304.77 L379.09,304.55 L380.10,304.31 L381.11,304.04 L382.12,303.73 L383.12,303.38 L384.13,302.99 L385.14,302.53 L386.15,301.99 L387.16,301.37 L388.17,300.64 L389.18,299.79 L390.18,298.80 L391.19,297.69 L392.20,296.51 L393.21,295.39 L394.22,294.56 L395.22,294.24 L396.23,294.50 L397.24,295.22 L398.25,296.18 L399.26,297.18 L400.27,298.12 L401.27,298.96 L402.28,299.69 L403.29,300.32 L404.30,300.86 L405.31,301.33 L406.32,301.74 L407.32,302.10 L408.33,302.41 L409.34,302.69 L410.35,302.94 L411.36,303.16 L412.37,303.35 L413.38,303.53 L414.38,303.70 L415.39,303.84 L416.40,303.98 L417.41,304.10 L418.42,304.22 L419.43,304.33 L420.43,304.42 L421.44,304.52 L422.45,304.60 L423.46,304.68 L424.47,304.76 L425.47,304.83 L426.48,304.89 L427.49,304.95 L428.50,305.01 L429.51,305.07 L430.52,305.12 L431.52,305.17 L432.53,305.22 L433.54,305.26 L434.55,305.31 L435.56,305.35 L436.57,305.39 L437.57,305.43 L438.58,305.46 L439.59,305.50 L440.60,305.53 L441.61,305.56 L442.62,305.59 L443.62,305.62 L444.63,305.65 L445.64,305.68 L446.65,305.70 L447.66,305.73 L448.67,305.75 L449.68,305.78 L450.68,305.80 L451.69,305.82 L452.70,305.85 L453.71,305.87 L454.72,305.89 L455.72,305.91 L456.73,305.93 L457.74,305.95 L458.75,305.96 L459.76,305.98 L460.77,306.00 L461.77,306.02 L462.78,306.03 L463.79,306.05 L464.80,306.06 L465.81,306.08 L466.82,306.09 L467.82,306.11 L468.83,306.12 L469.84,306.14 L470.85,306.15 L471.86,306.16 L472.87,306.17 L473.88,306.19 L474.88,306.20 L475.89,306.21 L476.90,306.22 L477.91,306.24 L478.92,306.25 L479.93,306.26 L480.93,306.27 L481.94,306.28 L482.95,306.29 L483.96,306.30 L484.97,306.31 L485.97,306.32 L486.98,306.33 L487.99,306.34 L489.00,306.35 L490.01,306.36 L491.02,306.37 L492.02,306.38 L493.03,306.39 L494.04,306.40 L495.05,306.40 L496.06,306.41 L497.07,306.42 L498.07,306.43 L499.08,306.44 L500.09,306.45 L501.10,306.45 L502.11,306.46 L503.12,306.47 L504.12,306.48 L505.13,306.49 L506.14,306.49 L507.15,306.50 L508.16,306.51 L509.17,306.52 L510.18,306.52 L511.18,306.53 L512.19,306.54 L513.20,306.54 L514.21,306.55 L515.22,306.56 L516.22,306.56 L517.23,306.57 L518.24,306.58 L519.25,306.58 L520.26,306.59 L521.27,306.60 L522.27,306.60 L523.28,306.61 L524.29,306.62 L525.30,306.62 L526.31,306.63 L527.32,306.64 L528.33,306.64 L529.33,306.65 L530.34,306.66 L531.35,306.66 L532.36,306.67 L533.37,306.67 L534.38,306.68 L535.38,306.69 L536.39,306.69 L537.40,306.70 L538.41,306.71 L539.42,306.71 L540.42,306.72 L541.43,306.73 L542.44,306.73 L543.45,306.74 L544.46,306.75 L545.47,306.75 L546.47,306.76 L547.48,306.77 L548.49,306.77 L549.50,306.78 L550.51,306.79 L551.52,306.79 L552.52,306.80 L553.53,306.81 L554.54,306.81 L555.55,306.82 L556.56,306.83 L557.57,306.84 L558.58,306.84 L559.58,306.85 L560.59,306.86 L561.60,306.87 L562.61,306.88 L563.62,306.88 L564.62,306.89 L565.63,306.90 L566.64,306.91 L567.65,306.91 L568.66,306.92 L569.67,306.93 L570.67,306.93 L571.68,306.93 L572.69,306.94 L573.70,306.93 L574.71,306.93 L575.72,306.92 L576.72,306.91 L577.73,306.90 L578.74,306.87 L579.75,306.85 L580.76,306.82 L581.77,306.78 L582.77,306.74 L583.78,306.70 L584.79,306.65 L585.80,306.62 L586.81,306.58 L587.82,306.55 L588.82,306.53 L589.83,306.52 L590.84,306.51 L591.85,306.50 L592.86,306.50 L593.87,306.50 L594.88,306.51 L595.88,306.52 L596.89,306.53 L597.90,306.54 L598.91,306.55 L599.92,306.56 L600.92,306.57 L601.93,306.58 L602.94,306.59 L603.95,306.60 L604.96,306.60 L605.97,306.61 L606.98,306.62 L607.98,306.63 L608.99,306.64 L610.00,306.65 L611.01,306.66" fill="none" stroke="#FF0000" stroke-width="3" stroke-linejoin="round" stroke-dasharray="11.2,2.8,5.5,2.8"/>
<rect x="532.5" y="199.2" width="120" height="68.5" fill="#fff" stroke="#3a3a3a" stroke-width="1"/>
<path d="M538.2,218.0 H580.2" stroke="#0072BD" stroke-width="2.9"/>
<path d="M538.2,249.4 H580.2" stroke="#FF0000" stroke-width="3" stroke-dasharray="11.2,2.8,5.5,2.8"/>
<text x="584.3" y="220.5" font-size="17.1"><tspan font-style="italic" font-family="'Liberation Serif',serif" font-size="16.3">θ</tspan><tspan font-size="14.8" dy="8.3" dx="-0.3">0</tspan><tspan dy="-8.3" dx="0.3"> = 30</tspan><tspan dx="1.1">°</tspan></text>
<text x="584.3" y="252.4" font-size="17.1"><tspan font-style="italic" font-family="'Liberation Serif',serif" font-size="16.3">θ</tspan><tspan font-size="14.8" dy="8.3" dx="-0.3">0</tspan><tspan dy="-8.3" dx="0.3"> = 45</tspan><tspan dx="1.1">°</tspan></text>
<text transform="translate(19.8,296.3) rotate(-90)" font-size="18.5">|w<tspan font-size="17.1" dy="-8.7" dx="-1.1">mid.</tspan><tspan dy="8.7" dx="2.4">|<tspan dx="-1.1"> (mm)</tspan></tspan></text>
<text transform="translate(28,279.2) rotate(-90)" font-size="17.1">2</text></g>
<g><rect x="65.5" y="356.3" width="605.0" height="126.3" fill="none" stroke="#3a3a3a" stroke-width="1"/>
<text x="65.50" y="509.6" text-anchor="middle" font-size="18">0</text>
<text x="166.33" y="509.6" text-anchor="middle" font-size="18">50</text>
<text x="267.17" y="509.6" text-anchor="middle" font-size="18">100</text>
<text x="368.00" y="509.6" text-anchor="middle" font-size="18">150</text>
<text x="468.83" y="509.6" text-anchor="middle" font-size="18">200</text>
<text x="569.67" y="509.6" text-anchor="middle" font-size="18">250</text>
<text x="670.50" y="509.6" text-anchor="middle" font-size="18">300</text>
<text x="57.3" y="490.90" text-anchor="end" font-size="18">0</text>
<text x="57.3" y="427.75" text-anchor="end" font-size="18">10</text>
<text x="57.3" y="364.60" text-anchor="end" font-size="18">20</text>
<path d="M65.50,482.6 v-6 M65.50,356.3 v6 M166.50,482.6 v-6 M166.50,356.3 v6 M267.50,482.6 v-6 M267.50,356.3 v6 M368.50,482.6 v-6 M368.50,356.3 v6 M468.50,482.6 v-6 M468.50,356.3 v6 M569.50,482.6 v-6 M569.50,356.3 v6 M670.50,482.6 v-6 M670.50,356.3 v6 M65.5,482.50 h6 M670.5,482.50 h-6 M65.5,419.50 h6 M670.5,419.50 h-6 M65.5,356.50 h6 M670.5,356.50 h-6" stroke="#3a3a3a" stroke-width="1" fill="none"/>
<path d="M65.50,482.57 L66.51,482.57 L67.52,482.56 L68.53,482.56 L69.53,482.55 L70.54,482.54 L71.55,482.53 L72.56,482.53 L73.57,482.52 L74.58,482.51 L75.58,482.50 L76.59,482.49 L77.60,482.48 L78.61,482.47 L79.62,482.47 L80.62,482.46 L81.63,482.45 L82.64,482.44 L83.65,482.43 L84.66,482.41 L85.67,482.40 L86.67,482.39 L87.68,482.38 L88.69,482.37 L89.70,482.36 L90.71,482.35 L91.72,482.33 L92.72,482.32 L93.73,482.31 L94.74,482.29 L95.75,482.28 L96.76,482.27 L97.77,482.25 L98.78,482.24 L99.78,482.22 L100.79,482.21 L101.80,482.19 L102.81,482.17 L103.82,482.15 L104.82,482.14 L105.83,482.12 L106.84,482.10 L107.85,482.08 L108.86,482.06 L109.87,482.03 L110.88,482.01 L111.88,481.98 L112.89,481.96 L113.90,481.93 L114.91,481.90 L115.92,481.87 L116.92,481.84 L117.93,481.81 L118.94,481.77 L119.95,481.73 L120.96,481.69 L121.97,481.65 L122.97,481.60 L123.98,481.55 L124.99,481.50 L126.00,481.44 L127.01,481.37 L128.02,481.30 L129.03,481.22 L130.03,481.13 L131.04,481.03 L132.05,480.92 L133.06,480.79 L134.07,480.64 L135.07,480.47 L136.08,480.26 L137.09,480.02 L138.10,479.73 L139.11,479.36 L140.12,478.90 L141.12,478.30 L142.13,477.49 L143.14,476.35 L144.15,474.64 L145.16,471.92 L146.17,467.19 L147.18,457.96 L148.18,437.76 L149.19,452.00 L150.20,465.30 L151.21,471.33 L152.22,474.67 L153.22,476.71 L154.23,478.05 L155.24,478.99 L156.25,479.69 L157.26,480.22 L158.27,480.63 L159.27,480.97 L160.28,481.26 L161.29,481.49 L162.30,481.70 L163.31,481.88 L164.32,482.04 L165.32,482.18 L166.33,482.31 L167.34,482.43 L168.35,482.52 L169.36,482.50 L170.37,482.42 L171.38,482.33 L172.38,482.23 L173.39,482.14 L174.40,482.05 L175.41,481.96 L176.42,481.87 L177.43,481.77 L178.43,481.68 L179.44,481.58 L180.45,481.48 L181.46,481.37 L182.47,481.26 L183.47,481.15 L184.48,481.02 L185.49,480.89 L186.50,480.75 L187.51,480.59 L188.52,480.43 L189.52,480.24 L190.53,480.04 L191.54,479.81 L192.55,479.56 L193.56,479.27 L194.57,478.95 L195.57,478.58 L196.58,478.15 L197.59,477.66 L198.60,477.08 L199.61,476.40 L200.62,475.60 L201.62,474.66 L202.63,473.53 L203.64,472.18 L204.65,470.51 L205.66,468.31 L206.67,465.00 L207.67,459.47 L208.68,451.84 L209.69,448.81 L210.70,454.72 L211.71,461.48 L212.72,465.41 L213.72,467.32 L214.73,468.12 L215.74,468.20 L216.75,467.67 L217.76,466.50 L218.77,464.52 L219.78,461.41 L220.78,456.63 L221.79,449.12 L222.80,436.01 L223.81,419.45 L224.82,430.43 L225.82,448.37 L226.83,458.21 L227.84,464.20 L228.85,468.21 L229.86,471.01 L230.87,473.04 L231.88,474.56 L232.88,475.73 L233.89,476.64 L234.90,477.38 L235.91,477.98 L236.92,478.48 L237.92,478.90 L238.93,479.26 L239.94,479.57 L240.95,479.84 L241.96,480.07 L242.97,480.28 L243.97,480.47 L244.98,480.63 L245.99,480.78 L247.00,480.92 L248.01,481.04 L249.02,481.16 L250.03,481.26 L251.03,481.36 L252.04,481.45 L253.05,481.53 L254.06,481.61 L255.07,481.68 L256.07,481.75 L257.08,481.82 L258.09,481.88 L259.10,481.93 L260.11,481.99 L261.12,482.04 L262.12,482.09 L263.13,482.14 L264.14,482.19 L265.15,482.23 L266.16,482.27 L267.17,482.31 L268.17,482.35 L269.18,482.39 L270.19,482.42 L271.20,482.46 L272.21,482.48 L273.22,482.50 L274.23,482.51 L275.23,482.50 L276.24,482.49 L277.25,482.47 L278.26,482.44 L279.27,482.41 L280.27,482.38 L281.28,482.35 L282.29,482.32 L283.30,482.29 L284.31,482.26 L285.32,482.23 L286.32,482.20 L287.33,482.17 L288.34,482.14 L289.35,482.11 L290.36,482.08 L291.37,482.05 L292.38,482.02 L293.38,481.98 L294.39,481.95 L295.40,481.92 L296.41,481.89 L297.42,481.86 L298.42,481.82 L299.43,481.79 L300.44,481.76 L301.45,481.72 L302.46,481.69 L303.47,481.65 L304.48,481.62 L305.48,481.58 L306.49,481.54 L307.50,481.51 L308.51,481.47 L309.52,481.43 L310.52,481.39 L311.53,481.35 L312.54,481.30 L313.55,481.26 L314.56,481.22 L315.57,481.17 L316.57,481.13 L317.58,481.08 L318.59,481.03 L319.60,480.98 L320.61,480.93 L321.62,480.87 L322.62,480.82 L323.63,480.76 L324.64,480.70 L325.65,480.64 L326.66,480.57 L327.67,480.50 L328.68,480.43 L329.68,480.36 L330.69,480.29 L331.70,480.21 L332.71,480.12 L333.72,480.04 L334.72,479.95 L335.73,479.85 L336.74,479.75 L337.75,479.65 L338.76,479.53 L339.77,479.42 L340.77,479.29 L341.78,479.16 L342.79,479.02 L343.80,478.87 L344.81,478.71 L345.82,478.54 L346.82,478.35 L347.83,478.16 L348.84,477.94 L349.85,477.71 L350.86,477.46 L351.87,477.19 L352.88,476.89 L353.88,476.56 L354.89,476.20 L355.90,475.80 L356.91,475.35 L357.92,474.85 L358.93,474.28 L359.93,473.64 L360.94,472.90 L361.95,472.06 L362.96,471.08 L363.97,469.93 L364.97,468.58 L365.98,466.99 L366.99,465.12 L368.00,462.92 L369.01,460.43 L370.02,457.80 L371.02,455.39 L372.03,453.79 L373.04,453.55 L374.05,454.74 L375.06,456.88 L376.07,459.36 L377.07,461.78 L378.08,463.94 L379.09,465.80 L380.10,467.39 L381.11,468.74 L382.12,469.89 L383.12,470.87 L384.13,471.72 L385.14,472.45 L386.15,473.10 L387.16,473.67 L388.17,474.17 L389.18,474.62 L390.18,475.02 L391.19,475.38 L392.20,475.71 L393.21,476.01 L394.22,476.29 L395.22,476.54 L396.23,476.77 L397.24,476.98 L398.25,477.18 L399.26,477.36 L400.27,477.53 L401.27,477.69 L402.28,477.83 L403.29,477.97 L404.30,478.10 L405.31,478.23 L406.32,478.34 L407.32,478.45 L408.33,478.55 L409.34,478.65 L410.35,478.75 L411.36,478.83 L412.37,478.92 L413.38,479.00 L414.38,479.07 L415.39,479.15 L416.40,479.22 L417.41,479.28 L418.42,479.35 L419.43,479.41 L420.43,479.47 L421.44,479.52 L422.45,479.58 L423.46,479.63 L424.47,479.68 L425.47,479.73 L426.48,479.77 L427.49,479.82 L428.50,479.86 L429.51,479.90 L430.52,479.94 L431.52,479.98 L432.53,480.02 L433.54,480.06 L434.55,480.09 L435.56,480.12 L436.57,480.16 L437.57,480.19 L438.58,480.22 L439.59,480.25 L440.60,480.28 L441.61,480.31 L442.62,480.34 L443.62,480.37 L444.63,480.39 L445.64,480.42 L446.65,480.44 L447.66,480.47 L448.67,480.49 L449.68,480.51 L450.68,480.54 L451.69,480.56 L452.70,480.58 L453.71,480.60 L454.72,480.62 L455.72,480.64 L456.73,480.66 L457.74,480.68 L458.75,480.70 L459.76,480.72 L460.77,480.74 L461.77,480.75 L462.78,480.77 L463.79,480.79 L464.80,480.80 L465.81,480.82 L466.82,480.84 L467.82,480.85 L468.83,480.87 L469.84,480.88 L470.85,480.90 L471.86,480.91 L472.87,480.93 L473.88,480.94 L474.88,480.95 L475.89,480.97 L476.90,480.98 L477.91,480.99 L478.92,481.00 L479.93,481.02 L480.93,481.03 L481.94,481.04 L482.95,481.05 L483.96,481.06 L484.97,481.08 L485.97,481.09 L486.98,481.10 L487.99,481.11 L489.00,481.12 L490.01,481.13 L491.02,481.14 L492.02,481.15 L493.03,481.16 L494.04,481.17 L495.05,481.18 L496.06,481.19 L497.07,481.20 L498.07,481.21 L499.08,481.22 L500.09,481.23 L501.10,481.23 L502.11,481.24 L503.12,481.25 L504.12,481.26 L505.13,481.27 L506.14,481.28 L507.15,481.28 L508.16,481.29 L509.17,481.30 L510.18,481.31 L511.18,481.32 L512.19,481.32 L513.20,481.33 L514.21,481.34 L515.22,481.35 L516.22,481.35 L517.23,481.36 L518.24,481.37 L519.25,481.37 L520.26,481.38 L521.27,481.39 L522.27,481.39 L523.28,481.40 L524.29,481.41 L525.30,481.41 L526.31,481.42 L527.32,481.43 L528.33,481.43 L529.33,481.44 L530.34,481.44 L531.35,481.45 L532.36,481.46 L533.37,481.46 L534.38,481.47 L535.38,481.47 L536.39,481.48 L537.40,481.48 L538.41,481.49 L539.42,481.50 L540.42,481.50 L541.43,481.51 L542.44,481.51 L543.45,481.52 L544.46,481.52 L545.47,481.53 L546.47,481.53 L547.48,481.54 L548.49,481.54 L549.50,481.55 L550.51,481.55 L551.52,481.56 L552.52,481.56 L553.53,481.57 L554.54,481.57 L555.55,481.57 L556.56,481.58 L557.57,481.58 L558.58,481.59 L559.58,481.59 L560.59,481.60 L561.60,481.60 L562.61,481.61 L563.62,481.61 L564.62,481.61 L565.63,481.62 L566.64,481.62 L567.65,481.63 L568.66,481.63 L569.67,481.63 L570.67,481.64 L571.68,481.64 L572.69,481.65 L573.70,481.65 L574.71,481.65 L575.72,481.66 L576.72,481.66 L577.73,481.67 L578.74,481.67 L579.75,481.67 L580.76,481.68 L581.77,481.68 L582.77,481.68 L583.78,481.69 L584.79,481.69 L585.80,481.69 L586.81,481.70 L587.82,481.70 L588.82,481.70 L589.83,481.71 L590.84,481.71 L591.85,481.71 L592.86,481.72 L593.87,481.72 L594.88,481.72 L595.88,481.73 L596.89,481.73 L597.90,481.73 L598.91,481.74 L599.92,481.74 L600.92,481.74 L601.93,481.75 L602.94,481.75 L603.95,481.75 L604.96,481.75 L605.97,481.76 L606.98,481.76 L607.98,481.76 L608.99,481.77 L610.00,481.77 L611.01,481.77" fill="none" stroke="#0072BD" stroke-width="2.9" stroke-linejoin="round"/>
<path d="M65.50,482.57 L66.51,482.57 L67.52,482.56 L68.53,482.55 L69.53,482.54 L70.54,482.53 L71.55,482.52 L72.56,482.51 L73.57,482.50 L74.58,482.49 L75.58,482.48 L76.59,482.47 L77.60,482.46 L78.61,482.44 L79.62,482.43 L80.62,482.42 L81.63,482.40 L82.64,482.39 L83.65,482.38 L84.66,482.36 L85.67,482.35 L86.67,482.33 L87.68,482.32 L88.69,482.30 L89.70,482.29 L90.71,482.27 L91.72,482.25 L92.72,482.24 L93.73,482.22 L94.74,482.20 L95.75,482.18 L96.76,482.16 L97.77,482.15 L98.78,482.13 L99.78,482.11 L100.79,482.09 L101.80,482.06 L102.81,482.04 L103.82,482.02 L104.82,482.00 L105.83,481.97 L106.84,481.95 L107.85,481.93 L108.86,481.90 L109.87,481.87 L110.88,481.85 L111.88,481.82 L112.89,481.79 L113.90,481.76 L114.91,481.73 L115.92,481.70 L116.92,481.67 L117.93,481.63 L118.94,481.60 L119.95,481.56 L120.96,481.52 L121.97,481.48 L122.97,481.44 L123.98,481.40 L124.99,481.35 L126.00,481.31 L127.01,481.26 L128.02,481.21 L129.03,481.16 L130.03,481.10 L131.04,481.04 L132.05,480.98 L133.06,480.91 L134.07,480.85 L135.07,480.77 L136.08,480.70 L137.09,480.61 L138.10,480.53 L139.11,480.43 L140.12,480.33 L141.12,480.23 L142.13,480.11 L143.14,479.99 L144.15,479.85 L145.16,479.71 L146.17,479.55 L147.18,479.38 L148.18,479.19 L149.19,478.97 L150.20,478.74 L151.21,478.48 L152.22,478.18 L153.22,477.85 L154.23,477.47 L155.24,477.03 L156.25,476.52 L157.26,475.92 L158.27,475.20 L159.27,474.32 L160.28,473.24 L161.29,471.88 L162.30,470.12 L163.31,467.76 L164.32,464.49 L165.32,459.74 L166.33,452.47 L167.34,440.68 L168.35,419.11 L169.36,381.88 L170.37,406.00 L171.38,435.97 L172.38,450.66 L173.39,459.36 L174.40,464.94 L175.41,468.74 L176.42,471.45 L177.43,473.48 L178.43,475.05 L179.44,476.30 L180.45,477.33 L181.46,478.19 L182.47,478.92 L183.47,479.57 L184.48,480.14 L185.49,480.66 L186.50,481.14 L187.51,481.58 L188.52,481.98 L189.52,482.24 L190.53,482.11 L191.54,481.75 L192.55,481.33 L193.56,480.88 L194.57,480.40 L195.57,479.87 L196.58,479.30 L197.59,478.65 L198.60,477.93 L199.61,477.11 L200.62,476.17 L201.62,475.08 L202.63,473.82 L203.64,472.34 L204.65,470.57 L205.66,468.31 L206.67,465.08 L207.67,459.83 L208.68,452.63 L209.69,449.76 L210.70,455.29 L211.71,461.58 L212.72,465.22 L213.72,467.04 L214.73,467.89 L215.74,468.15 L216.75,467.96 L217.76,467.36 L218.77,466.32 L219.78,464.78 L220.78,462.60 L221.79,459.56 L222.80,455.31 L223.81,449.29 L224.82,440.54 L225.82,427.31 L226.83,404.91 L227.84,371.14 L228.85,377.57 L229.86,411.22 L230.87,431.21 L231.88,443.32 L232.88,451.47 L233.89,457.20 L234.90,461.37 L235.91,464.50 L236.92,466.91 L237.92,468.81 L238.93,470.34 L239.94,471.59 L240.95,472.63 L241.96,473.50 L242.97,474.25 L243.97,474.89 L244.98,475.45 L245.99,475.94 L247.00,476.37 L248.01,476.76 L249.02,477.10 L250.03,477.41 L251.03,477.69 L252.04,477.95 L253.05,478.18 L254.06,478.39 L255.07,478.59 L256.07,478.77 L257.08,478.94 L258.09,479.09 L259.10,479.24 L260.11,479.37 L261.12,479.50 L262.12,479.62 L263.13,479.73 L264.14,479.84 L265.15,479.94 L266.16,480.03 L267.17,480.12 L268.17,480.21 L269.18,480.29 L270.19,480.37 L271.20,480.44 L272.21,480.51 L273.22,480.58 L274.23,480.65 L275.23,480.71 L276.24,480.77 L277.25,480.83 L278.26,480.89 L279.27,480.94 L280.27,480.99 L281.28,481.04 L282.29,481.09 L283.30,481.14 L284.31,481.19 L285.32,481.23 L286.32,481.28 L287.33,481.32 L288.34,481.36 L289.35,481.40 L290.36,481.44 L291.37,481.48 L292.38,481.52 L293.38,481.56 L294.39,481.60 L295.40,481.63 L296.41,481.67 L297.42,481.71 L298.42,481.74 L299.43,481.77 L300.44,481.81 L301.45,481.84 L302.46,481.87 L303.47,481.91 L304.48,481.94 L305.48,481.97 L306.49,482.00 L307.50,482.04 L308.51,482.07 L309.52,482.10 L310.52,482.13 L311.53,482.16 L312.54,482.19 L313.55,482.22 L314.56,482.25 L315.57,482.28 L316.57,482.31 L317.58,482.34 L318.59,482.37 L319.60,482.40 L320.61,482.43 L321.62,482.45 L322.62,482.47 L323.63,482.49 L324.64,482.51 L325.65,482.51 L326.66,482.50 L327.67,482.48 L328.68,482.45 L329.68,482.42 L330.69,482.39 L331.70,482.36 L332.71,482.33 L333.72,482.29 L334.72,482.26 L335.73,482.22 L336.74,482.18 L337.75,482.14 L338.76,482.10 L339.77,482.06 L340.77,482.02 L341.78,481.98 L342.79,481.93 L343.80,481.89 L344.81,481.84 L345.82,481.79 L346.82,481.74 L347.83,481.69 L348.84,481.64 L349.85,481.58 L350.86,481.53 L351.87,481.47 L352.88,481.41 L353.88,481.34 L354.89,481.28 L355.90,481.21 L356.91,481.13 L357.92,481.06 L358.93,480.98 L359.93,480.89 L360.94,480.81 L361.95,480.71 L362.96,480.61 L363.97,480.51 L364.97,480.40 L365.98,480.28 L366.99,480.16 L368.00,480.03 L369.01,479.89 L370.02,479.73 L371.02,479.57 L372.03,479.39 L373.04,479.20 L374.05,478.99 L375.06,478.77 L376.07,478.52 L377.07,478.24 L378.08,477.94 L379.09,477.60 L380.10,477.23 L381.11,476.81 L382.12,476.33 L383.12,475.79 L384.13,475.17 L385.14,474.45 L386.15,473.62 L387.16,472.65 L388.17,471.52 L389.18,470.20 L390.18,468.67 L391.19,466.95 L392.20,465.14 L393.21,463.44 L394.22,462.20 L395.22,461.76 L396.23,462.24 L397.24,463.44 L398.25,464.98 L399.26,466.59 L400.27,468.09 L401.27,469.43 L402.28,470.59 L403.29,471.59 L404.30,472.45 L405.31,473.19 L406.32,473.83 L407.32,474.39 L408.33,474.89 L409.34,475.32 L410.35,475.71 L411.36,476.06 L412.37,476.37 L413.38,476.65 L414.38,476.90 L415.39,477.14 L416.40,477.35 L417.41,477.54 L418.42,477.72 L419.43,477.89 L420.43,478.04 L421.44,478.18 L422.45,478.32 L423.46,478.44 L424.47,478.56 L425.47,478.66 L426.48,478.77 L427.49,478.86 L428.50,478.95 L429.51,479.04 L430.52,479.12 L431.52,479.20 L432.53,479.27 L433.54,479.34 L434.55,479.41 L435.56,479.47 L436.57,479.53 L437.57,479.59 L438.58,479.64 L439.59,479.70 L440.60,479.75 L441.61,479.79 L442.62,479.84 L443.62,479.89 L444.63,479.93 L445.64,479.97 L446.65,480.01 L447.66,480.05 L448.67,480.09 L449.68,480.12 L450.68,480.16 L451.69,480.19 L452.70,480.22 L453.71,480.25 L454.72,480.29 L455.72,480.31 L456.73,480.34 L457.74,480.37 L458.75,480.40 L459.76,480.42 L460.77,480.45 L461.77,480.47 L462.78,480.50 L463.79,480.52 L464.80,480.54 L465.81,480.57 L466.82,480.59 L467.82,480.61 L468.83,480.63 L469.84,480.65 L470.85,480.67 L471.86,480.69 L472.87,480.71 L473.88,480.73 L474.88,480.74 L475.89,480.76 L476.90,480.78 L477.91,480.79 L478.92,480.81 L479.93,480.83 L480.93,480.84 L481.94,480.86 L482.95,480.87 L483.96,480.89 L484.97,480.90 L485.97,480.92 L486.98,480.93 L487.99,480.94 L489.00,480.96 L490.01,480.97 L491.02,480.98 L492.02,480.99 L493.03,481.01 L494.04,481.02 L495.05,481.03 L496.06,481.04 L497.07,481.05 L498.07,481.07 L499.08,481.08 L500.09,481.09 L501.10,481.10 L502.11,481.11 L503.12,481.12 L504.12,481.13 L505.13,481.14 L506.14,481.15 L507.15,481.16 L508.16,481.17 L509.17,481.18 L510.18,481.19 L511.18,481.20 L512.19,481.20 L513.20,481.21 L514.21,481.22 L515.22,481.23 L516.22,481.24 L517.23,481.25 L518.24,481.26 L519.25,481.26 L520.26,481.27 L521.27,481.28 L522.27,481.29 L523.28,481.30 L524.29,481.30 L525.30,481.31 L526.31,481.32 L527.32,481.32 L528.33,481.33 L529.33,481.34 L530.34,481.35 L531.35,481.35 L532.36,481.36 L533.37,481.37 L534.38,481.37 L535.38,481.38 L536.39,481.39 L537.40,481.39 L538.41,481.40 L539.42,481.40 L540.42,481.41 L541.43,481.42 L542.44,481.42 L543.45,481.43 L544.46,481.43 L545.47,481.44 L546.47,481.45 L547.48,481.45 L548.49,481.46 L549.50,481.46 L550.51,481.47 L551.52,481.47 L552.52,481.48 L553.53,481.48 L554.54,481.49 L555.55,481.50 L556.56,481.50 L557.57,481.51 L558.58,481.51 L559.58,481.52 L560.59,481.52 L561.60,481.53 L562.61,481.53 L563.62,481.53 L564.62,481.54 L565.63,481.54 L566.64,481.55 L567.65,481.55 L568.66,481.56 L569.67,481.56 L570.67,481.57 L571.68,481.57 L572.69,481.58 L573.70,481.58 L574.71,481.58 L575.72,481.59 L576.72,481.59 L577.73,481.60 L578.74,481.60 L579.75,481.61 L580.76,481.61 L581.77,481.61 L582.77,481.62 L583.78,481.62 L584.79,481.62 L585.80,481.63 L586.81,481.63 L587.82,481.64 L588.82,481.64 L589.83,481.64 L590.84,481.65 L591.85,481.65 L592.86,481.65 L593.87,481.66 L594.88,481.66 L595.88,481.67 L596.89,481.67 L597.90,481.67 L598.91,481.68 L599.92,481.68 L600.92,481.68 L601.93,481.69 L602.94,481.69 L603.95,481.69 L604.96,481.70 L605.97,481.70 L606.98,481.70 L607.98,481.71 L608.99,481.71 L610.00,481.71 L611.01,481.72" fill="none" stroke="#FF0000" stroke-width="3" stroke-linejoin="round" stroke-dasharray="11.2,2.8,5.5,2.8"/>
<rect x="532.5" y="374.3" width="120" height="68.5" fill="#fff" stroke="#3a3a3a" stroke-width="1"/>
<path d="M538.2,393.1 H580.2" stroke="#0072BD" stroke-width="2.9"/>
<path d="M538.2,424.5 H580.2" stroke="#FF0000" stroke-width="3" stroke-dasharray="11.2,2.8,5.5,2.8"/>
<text x="584.3" y="395.6" font-size="17.1"><tspan font-style="italic" font-family="'Liberation Serif',serif" font-size="16.3">θ</tspan><tspan font-size="14.8" dy="8.3" dx="-0.3">0</tspan><tspan dy="-8.3" dx="0.3"> = 30</tspan><tspan dx="1.1">°</tspan></text>
<text x="584.3" y="427.5" font-size="17.1"><tspan font-style="italic" font-family="'Liberation Serif',serif" font-size="16.3">θ</tspan><tspan font-size="14.8" dy="8.3" dx="-0.3">0</tspan><tspan dy="-8.3" dx="0.3"> = 45</tspan><tspan dx="1.1">°</tspan></text>
<text transform="translate(19.8,471.4) rotate(-90)" font-size="18.5">|w<tspan font-size="17.1" dy="-8.7" dx="-1.1">mid.</tspan><tspan dy="8.7" dx="2.4">|<tspan dx="-1.1"> (mm)</tspan></tspan></text>
<text transform="translate(28,454.3) rotate(-90)" font-size="17.1">3</text></g>
<text x="369.1" y="537.7" text-anchor="middle" font-size="21">Excitation frequency (Hz)</text>
</svg>
</body></html>
